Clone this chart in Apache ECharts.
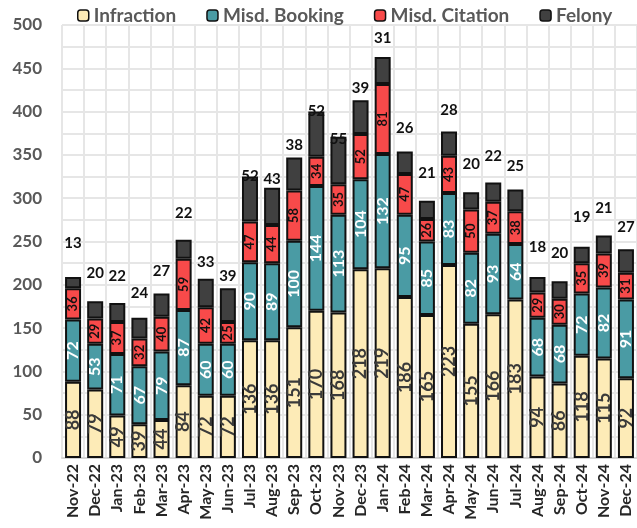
<!DOCTYPE html>
<html><head><meta charset="utf-8">
<script src="https://cdn.jsdelivr.net/npm/echarts@6/dist/echarts.min.js"></script>
<style>html,body{margin:0;padding:0;background:#fff}#c{width:637px;height:528px}</style>
</head><body><div id="c"></div>
<script>
const categories = ["Nov-22","Dec-22","Jan-23","Feb-23","Mar-23","Apr-23","May-23","Jun-23","Jul-23","Aug-23","Sep-23","Oct-23","Nov-23","Dec-23","Jan-24","Feb-24","Mar-24","Apr-24","May-24","Jun-24","Jul-24","Aug-24","Sep-24","Oct-24","Nov-24","Dec-24"];
const infraction = [88,79,49,39,44,84,72,72,136,136,151,170,168,218,219,186,165,223,155,166,183,94,86,118,115,92];
const misdBooking = [72,53,71,67,79,87,60,60,90,89,100,144,113,104,132,95,85,83,82,93,64,68,68,72,82,91];
const misdCitation = [36,29,37,32,40,59,42,25,47,44,58,34,35,52,81,47,26,43,50,37,38,29,30,35,39,31];
const felony = [13,20,22,24,27,22,33,39,52,43,38,52,55,39,31,26,21,28,20,22,25,18,20,19,21,27];
const yTicks = [0,50,100,150,200,250,300,350,400,450,500];

const FONT = 'Lato';
const border = {borderColor:'#111', borderWidth:2};
function mk(name, data, color, label){
  return {name, type:'bar', stack:'s', data, barWidth:16,
    itemStyle:Object.assign({color}, border), label};
}
const chart = echarts.init(document.getElementById('c'), null, {renderer:'canvas'});
chart.setOption({
  animation:false,
  textStyle:{fontFamily:FONT},
  legend:{top:1, left:72, itemWidth:11, itemHeight:11, itemGap:30,
    textStyle:{fontSize:19, fontWeight:'bold', color:'#595959', fontFamily:FONT},
    itemStyle:{borderColor:'#111', borderWidth:1.5},
    data:['Infraction','Misd. Booking','Misd. Citation','Felony']},
  grid:{left:62, top:25, width:580, bottom:70, containLabel:false},
  xAxis:{type:'category', data:categories, boundaryGap:true,
    axisLine:{lineStyle:{color:'#d4d4d4', width:2}}, axisTick:{show:false},
    splitLine:{show:true, interval:0, lineStyle:{color:'#e6e6e6', width:2}},
    axisLabel:{rotate:90, interval:0, fontSize:16, fontWeight:'bold', color:'#262626', margin:6, fontFamily:FONT}},
  yAxis:{type:'value', min:yTicks[0], max:yTicks[yTicks.length-1], interval:50,
    axisLine:{show:false}, axisTick:{show:false},
    splitLine:{lineStyle:{color:'#e6e6e6', width:2}},
    minorTick:{show:false, splitNumber:2},
    minorSplitLine:{show:true, lineStyle:{color:'#e6e6e6', width:2}},
    axisLabel:{fontSize:17, fontWeight:'bold', color:'#595959', margin:20, fontFamily:FONT}},
  series:[
    mk('Infraction', infraction, '#FDEBB7', {show:true, position:'inside', rotate:90, fontSize:18, fontWeight:'bold', color:'#3a3a3a', fontFamily:FONT}),
    mk('Misd. Booking', misdBooking, '#4A9BA4', {show:true, position:'inside', rotate:90, fontSize:16, fontWeight:'bold', color:'#fff', fontFamily:FONT}),
    mk('Misd. Citation', misdCitation, '#F84A4A', {show:true, position:'inside', rotate:90, fontSize:13, fontWeight:'bold', color:'#111', fontFamily:FONT}),
    mk('Felony', felony, '#404040', {show:true, position:'insideBottom', distance:38, fontSize:15, fontWeight:'bold', color:'#111', fontFamily:FONT})
  ]
});
</script></body></html>
